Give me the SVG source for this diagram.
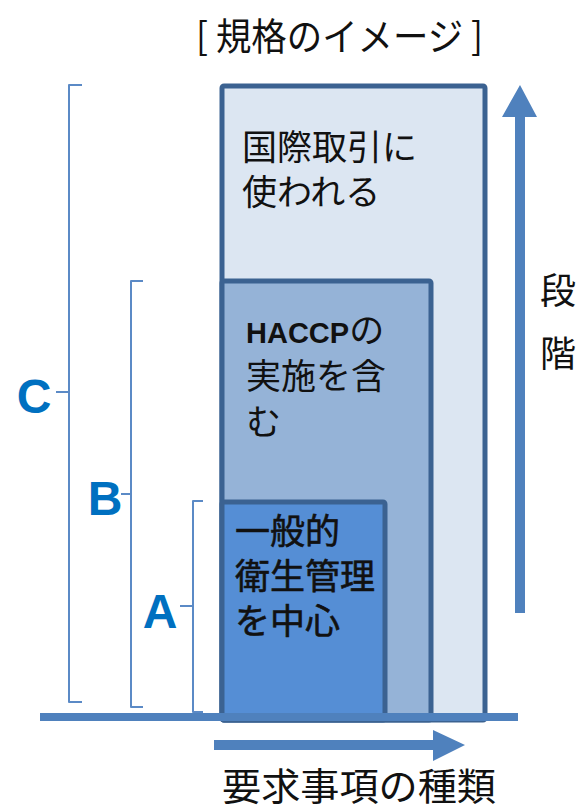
<svg xmlns="http://www.w3.org/2000/svg" width="577" height="808" viewBox="0 0 577 808">
  <style>
    .jp { font-family: "Noto Sans CJK JP", "Noto Sans", sans-serif; fill: #111; }
    .med { stroke: #111; stroke-width: 0.6; }
    .lat { font-family: "Liberation Sans", Arial, sans-serif; font-weight: bold; }
    .lbl { font-family: "Liberation Sans", Arial, sans-serif; font-weight: bold; font-size: 48px; fill: #0070c0; text-anchor: middle; }
    .box { stroke: #3b6291; stroke-width: 5; }
    .brk { fill: none; stroke: #5b8ac6; stroke-width: 2; stroke-linejoin: round; }
    .arr { fill: #4f81bd; }
  </style>
  <rect width="577" height="808" fill="#fff"/>

  <text class="jp" x="196" y="50" font-size="38" textLength="287" lengthAdjust="spacingAndGlyphs">[ 規格のイメージ ]</text>

  <g id="box-C">
    <rect class="box" x="222" y="86" width="263" height="634" rx="2" fill="#dce6f2"/>
    <text class="jp" font-size="35"><tspan x="242" y="160">国際取引に</tspan><tspan x="242" y="205">使われる</tspan></text>
  </g>

  <g id="box-B">
    <rect class="box" x="222" y="281" width="209" height="439" rx="2" fill="#95b3d7"/>
    <text class="jp" font-size="35"><tspan x="246" y="343" class="lat" font-size="29">HACCP</tspan><tspan>の</tspan><tspan x="246" y="389">実施を含</tspan><tspan x="246" y="435">む</tspan></text>
  </g>

  <g id="box-A">
    <rect class="box" x="222" y="502" width="163" height="218" rx="2" fill="#558ed5"/>
    <text class="jp med" font-size="35"><tspan x="235" y="544">一般的</tspan><tspan x="235" y="589">衛生管理</tspan><tspan x="235" y="634">を中心</tspan></text>
  </g>

  <g id="brackets">
    <path class="brk" d="M82,85 H69 V702 H82 M69,392 H56"/>
    <path class="brk" d="M143,281 H131 V707 H143 M131,494 H121"/>
    <path class="brk" d="M203,501 H193 V712 H203 M193,606 H180"/>
  </g>

  <g id="label-C"><text class="lbl" x="34" y="413">C</text></g>
  <g id="label-B"><text class="lbl" x="105" y="515">B</text></g>
  <g id="label-A"><text class="lbl" x="160" y="628">A</text></g>

  <g id="axes">
    <rect class="arr" x="40" y="713" width="478" height="8"/>
    <path class="arr" d="M515,613 V117 H502 L520,85 L537,117 H525 V613 Z"/>
    <path class="arr" d="M214,740 H433 V730 L465,745 L433,761 V750 H214 Z"/>
  </g>

  <g id="stage-label">
    <text class="jp" font-size="36"><tspan x="540" y="304">段</tspan><tspan x="540" y="367">階</tspan></text>
  </g>

  <text class="jp" x="222" y="800" font-size="38" textLength="274" lengthAdjust="spacingAndGlyphs">要求事項の種類</text>
</svg>
